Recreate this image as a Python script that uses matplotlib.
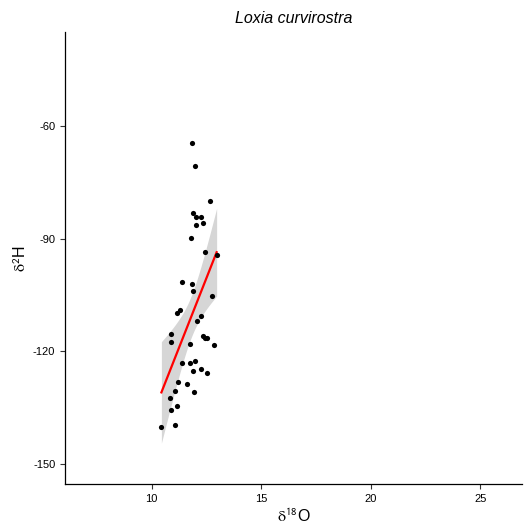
import numpy as np
import matplotlib.pyplot as plt

plt.rcParams['font.family'] = ['Liberation Sans', 'DejaVu Sans']
plt.rcParams['mathtext.fontset'] = 'stix'
plt.rcParams['axes.unicode_minus'] = False

# isotope values
d18O = [11.85, 11.99, 12.68, 11.91, 12.05, 12.26, 12.33, 12.05, 11.80, 12.45,
        12.97, 11.38, 11.83, 11.88, 12.76, 11.32, 11.15, 12.27, 12.06, 10.90,
        12.36, 12.44, 12.51, 10.90, 11.76, 12.83, 11.40, 11.76, 11.97, 11.91,
        12.24, 12.53, 11.20, 11.64, 11.08, 11.94, 10.82, 11.14, 10.91, 10.45,
        11.06]
d2H = [-64.6, -70.6, -79.9, -83.2, -84.1, -84.3, -85.9, -86.3, -89.8, -93.6,
       -94.3, -101.5, -102.0, -103.9, -105.2, -109.0, -109.7, -110.5, -111.8, -115.4,
       -115.9, -116.3, -116.3, -117.6, -118.0, -118.4, -123.1, -123.2, -122.6, -125.2,
       -124.7, -125.8, -128.2, -128.6, -130.4, -130.7, -132.4, -134.6, -135.6, -140.1,
       -139.6]

x_ticks = [10, 15, 20, 25]
y_ticks = [-150, -120, -90, -60]

x = np.array(d18O)
y = np.array(d2H)

# linear fit with 95% confidence band (like geom_smooth(method = "lm"))
n = len(x)
slope, intercept = np.polyfit(x, y, 1)
resid = y - (slope * x + intercept)
s = np.sqrt(np.sum(resid ** 2) / (n - 2))
xs = np.linspace(x.min(), x.max(), 80)
fit = slope * xs + intercept
se = s * np.sqrt(1 / n + (xs - x.mean()) ** 2 / np.sum((x - x.mean()) ** 2))
t = 2.02
lo, hi = fit - t * se, fit + t * se

fig = plt.figure(figsize=(5.24, 5.27), dpi=100)
ax = fig.add_axes([0.124, 0.0816, 0.872, 0.857])

ax.fill_between(xs, lo, hi, color='#d6d6d6', lw=0, zorder=1)
ax.plot(xs, fit, color='red', lw=1.6, zorder=2)
ax.scatter(x, y, s=14, color='black', lw=0, zorder=3)

ax.set_xlim(6.05, 26.9)
ax.set_ylim(-155.3, -35)
ax.set_xticks(x_ticks)
ax.set_yticks(y_ticks)
ax.tick_params(labelsize=8, length=3.5, width=0.8, color='#333333', labelcolor='black')

for side in ['top', 'right']:
    ax.spines[side].set_visible(False)
for side in ['left', 'bottom']:
    ax.spines[side].set_linewidth(0.9)

ax.set_xlabel(r'$\mathrm{\delta}^{\mathsf{18}}$O', fontsize=11.5, labelpad=3)
ax.set_ylabel(r'$\mathrm{\delta}^{\mathsf{2}}$H', fontsize=11.5, labelpad=3)
ax.set_title('Loxia curvirostra', fontsize=11.5, style='italic', pad=7)

fig.savefig('out.png', dpi=100)
